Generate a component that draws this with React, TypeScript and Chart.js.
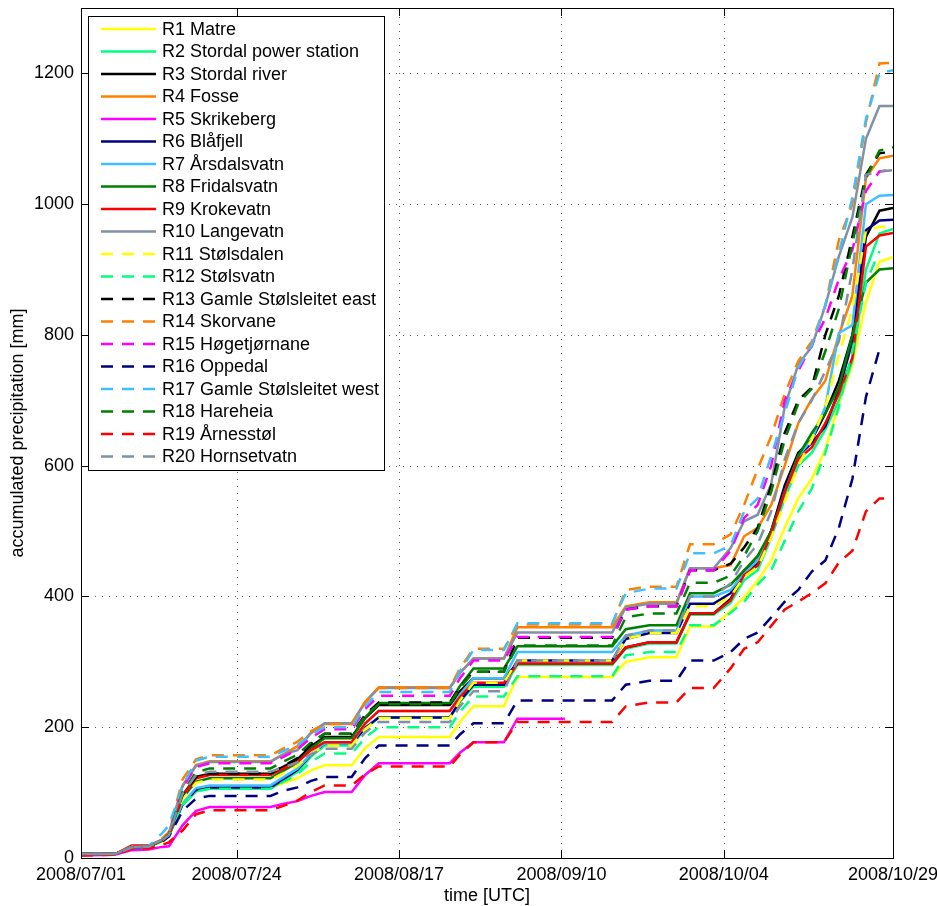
import { useEffect, useRef } from 'react';
import { Chart, registerables } from 'chart.js';

Chart.register(...registerables);

// Day offsets from 2008/07/01 00:00 UTC at which the accumulations are sampled
const days = [0, 5, 7.5, 10, 12, 13, 15, 17, 19, 28, 30, 32, 34, 36, 40, 42, 44, 54.5, 56, 58, 62.5, 64.5, 71.5, 78.5, 80.5, 84, 88, 90, 93.5, 96, 98, 100, 102, 104, 106, 108, 110, 112, 114, 116, 118, 120];

const tickDays = [0, 23, 47, 71, 95, 120];
const tickLabels = ['2008/07/01', '2008/07/24', '2008/08/17', '2008/09/10', '2008/10/04', '2008/10/29'];
const yTicks = [0, 200, 400, 600, 800, 1000, 1200];

const names = [
  'R1 Matre', 'R2 Stordal power station', 'R3 Stordal river', 'R4 Fosse', 'R5 Skrikeberg',
  'R6 Blåfjell', 'R7 Årsdalsvatn', 'R8 Fridalsvatn', 'R9 Krokevatn', 'R10 Langevatn',
  'R11 Stølsdalen', 'R12 Stølsvatn', 'R13 Gamle Stølsleitet east', 'R14 Skorvane', 'R15 Høgetjørnane',
  'R16 Oppedal', 'R17 Gamle Stølsleitet west', 'R18 Hareheia', 'R19 Årnesstøl', 'R20 Hornsetvatn',
];

const palette = ['#FFFF00', '#00FF80', '#000000', '#FF8000', '#FF00FF', '#000080', '#40BFFF', '#008000', '#FF0000', '#8090A6'];

// Accumulated precipitation [mm] per gauge
const r1 = [5, 6, 15, 16, 25, 33, 82, 104, 108, 108, 115, 122, 134, 142, 142, 168, 185, 185, 208, 232, 232, 277, 277, 277, 300, 307, 307, 354, 354, 378, 399, 424, 455, 505, 550, 580, 625, 695, 755, 850, 912, 919];
const r2 = [6, 6, 16, 17, 27, 35, 81, 102, 106, 106, 119, 132, 155, 172, 172, 198, 215, 215, 239, 262, 262, 295, 295, 295, 320, 328, 328, 372, 372, 390, 425, 440, 490, 550, 600, 620, 655, 700, 760, 900, 955, 962];
const r3 = [6, 6, 16, 17, 27, 35, 96, 124, 129, 129, 140, 151, 171, 185, 185, 214, 234, 234, 255, 275, 275, 297, 297, 297, 322, 330, 330, 374, 374, 396, 435, 450, 500, 570, 620, 640, 680, 730, 800, 950, 990, 994];
const r4 = [6, 6, 16, 17, 27, 37, 110, 142, 148, 148, 159, 171, 191, 205, 205, 239, 261, 261, 283, 305, 305, 353, 353, 353, 385, 391, 391, 443, 443, 448, 492, 505, 540, 600, 665, 702, 730, 800, 860, 1040, 1070, 1074];
const r5 = [4, 5, 12, 13, 17, 18, 50, 72, 78, 78, 83, 87, 95, 101, 101, 127, 145, 145, 161, 177, 177, 213, 213, null, null, null, null, null, null, null, null, null, null, null, null, null, null, null, null, null, null, null];
const r6 = [6, 6, 16, 17, 27, 35, 82, 104, 108, 108, 121, 135, 158, 175, 175, 199, 215, 215, 240, 265, 265, 302, 302, 302, 335, 344, 344, 389, 389, 405, 440, 455, 500, 565, 615, 635, 660, 715, 790, 960, 975, 976];
const r7 = [6, 6, 16, 17, 27, 35, 84, 107, 111, 111, 124, 137, 159, 175, 175, 205, 225, 225, 250, 275, 275, 315, 315, 315, 340, 348, 348, 400, 400, 410, 435, 455, 495, 560, 615, 640, 690, 803, 815, 1000, 1013, 1014];
const r8 = [6, 6, 16, 17, 27, 35, 92, 117, 122, 122, 134, 146, 168, 183, 183, 215, 237, 237, 263, 290, 290, 324, 324, 324, 350, 356, 356, 405, 405, 418, 440, 462, 500, 560, 615, 650, 680, 720, 800, 880, 900, 902];
const r9 = [6, 6, 19, 19, 28, 36, 95, 122, 127, 127, 137, 147, 165, 177, 177, 206, 225, 225, 246, 268, 268, 297, 297, 297, 322, 330, 330, 374, 374, 394, 433, 447, 495, 560, 610, 628, 665, 710, 765, 935, 952, 956];
const r10 = [6, 6, 17, 18, 28, 38, 110, 141, 147, 147, 159, 165, 192, 206, 206, 238, 260, 260, 283, 305, 305, 345, 345, 345, 383, 389, 389, 443, 443, 474, 515, 525, 572, 690, 755, 782, 845, 920, 980, 1100, 1150, 1150];
const r11 = [6, 6, 16, 17, 27, 35, 90, 115, 120, 120, 130, 141, 159, 172, 172, 197, 214, 214, 241, 268, 268, 302, 302, 302, 335, 344, 344, 385, 385, 400, 430, 445, 490, 545, 600, 640, 690, 770, 840, 960, 965, 966];
const r12 = [6, 6, 16, 17, 27, 35, 81, 102, 106, 106, 117, 128, 147, 160, 160, 184, 200, 200, 224, 247, 247, 278, 278, 278, 310, 315, 315, 356, 356, 375, 392, 418, 440, 485, 530, 565, 620, 690, 775, 880, 928, null];
const r13 = [6, 6, 16, 17, 27, 36, 96, 124, 129, 129, 141, 153, 175, 190, 190, 219, 238, 238, 262, 285, 285, 337, 337, 337, 380, 385, 385, 440, 440, 450, 475, 505, 570, 650, 700, 720, 800, 860, 950, 1045, 1078, 1080];
const r14 = [6, 6, 17, 18, 30, 40, 120, 151, 157, 157, 168, 178, 194, 205, 205, 238, 260, 260, 290, 320, 320, 357, 357, 357, 410, 415, 415, 480, 480, 495, 540, 595, 645, 710, 760, 790, 845, 945, 1000, 1125, 1215, 1216];
const r15 = [6, 6, 16, 17, 27, 37, 108, 139, 145, 145, 155, 166, 184, 197, 197, 228, 248, 248, 275, 302, 302, 338, 338, 338, 380, 385, 385, 440, 440, 470, 520, 540, 600, 700, 745, 785, 825, 885, 930, 1020, 1050, 1053];
const r16 = [6, 6, 16, 17, 25, 33, 72, 91, 95, 95, 103, 108, 118, 124, 124, 153, 172, 172, 189, 206, 206, 241, 241, 241, 265, 271, 271, 302, 302, 315, 335, 345, 368, 392, 410, 438, 455, 505, 580, 705, 778, null];
const r17 = [6, 6, 17, 18, 38, 50, 110, 149, 155, 155, 164, 173, 189, 200, 200, 232, 254, 254, 286, 318, 318, 359, 359, 359, 405, 412, 412, 466, 466, 478, 530, 550, 615, 680, 750, 785, 845, 925, 1010, 1130, 1200, 1205];
const r18 = [6, 6, 16, 17, 27, 36, 101, 131, 137, 137, 148, 158, 177, 190, 190, 217, 235, 235, 260, 285, 285, 325, 325, 325, 368, 374, 374, 421, 421, 432, 462, 500, 560, 640, 695, 718, 775, 840, 940, 1040, 1082, 1087];
const r19 = [4, 5, 14, 15, 20, 24, 42, 67, 73, 73, 80, 88, 101, 111, 111, 128, 140, 140, 158, 177, 177, 208, 208, 208, 232, 238, 238, 260, 260, 290, 320, 330, 355, 380, 392, 405, 420, 452, 470, 530, 550, 550];
const r20 = [6, 6, 16, 17, 27, 35, 98, 127, 132, 132, 139, 146, 159, 167, 167, 192, 208, 208, 232, 255, 255, 302, 302, 302, 340, 348, 348, 400, 400, 420, 455, 480, 530, 610, 665, 700, 745, 790, 900, 1045, 1050, 1052];

const series = [r1, r2, r3, r4, r5, r6, r7, r8, r9, r10, r11, r12, r13, r14, r15, r16, r17, r18, r19, r20];

const FONT = '"Liberation Sans", Arial, Helvetica, sans-serif';
const FONT_SIZE = 18;
const DASH = [12, 9];

const axesPlugin = {
  id: 'matlabAxes',
  beforeDatasetsDraw(chart: any) {
    const { ctx, chartArea, scales } = chart;
    const { left, right, top, bottom } = chartArea;
    ctx.save();
    ctx.strokeStyle = '#555555';
    ctx.lineWidth = 1;
    ctx.setLineDash([1, 6]);
    for (const v of yTicks) {
      if (v === 0) continue;
      const py = Math.round(scales.y.getPixelForValue(v)) + 0.5;
      ctx.beginPath();
      ctx.moveTo(left, py);
      ctx.lineTo(right, py);
      ctx.stroke();
    }
    for (const d of tickDays.slice(1, -1)) {
      const px = Math.round(scales.x.getPixelForValue(d)) + 0.5;
      ctx.beginPath();
      ctx.moveTo(px, bottom);
      ctx.lineTo(px, top);
      ctx.stroke();
    }
    ctx.restore();
  },
  afterDatasetsDraw(chart: any) {
    const { ctx, chartArea, scales } = chart;
    const { left, right, top, bottom } = chartArea;
    ctx.save();
    ctx.strokeStyle = '#000000';
    ctx.lineWidth = 1;
    ctx.setLineDash([]);
    ctx.strokeRect(Math.round(left) + 0.5, Math.round(top) + 0.5, Math.round(right - left), Math.round(bottom - top));
    const tl = 8;
    ctx.beginPath();
    for (const v of yTicks) {
      const py = Math.round(scales.y.getPixelForValue(v)) + 0.5;
      ctx.moveTo(left, py);
      ctx.lineTo(left + tl, py);
      ctx.moveTo(right, py);
      ctx.lineTo(right - tl, py);
    }
    for (const d of tickDays) {
      const px = Math.round(scales.x.getPixelForValue(d)) + 0.5;
      ctx.moveTo(px, bottom);
      ctx.lineTo(px, bottom - tl);
      ctx.moveTo(px, top);
      ctx.lineTo(px, top + tl);
    }
    ctx.stroke();
    ctx.restore();
  },
  afterDraw(chart: any) {
    const { ctx } = chart;
    const datasets = chart.data.datasets;
    const bx = 88.5;
    const by = 16.5;
    const bw = 296;
    const rowH = 22.5;
    const bh = 454;
    ctx.save();
    ctx.fillStyle = '#ffffff';
    ctx.fillRect(bx, by, bw, bh);
    ctx.strokeStyle = '#000000';
    ctx.lineWidth = 1;
    ctx.setLineDash([]);
    ctx.strokeRect(bx, by, bw, bh);
    ctx.font = `${FONT_SIZE}px ${FONT}`;
    ctx.textBaseline = 'middle';
    ctx.textAlign = 'left';
    datasets.forEach((ds: any, i: number) => {
      const cy = 29 + i * rowH;
      ctx.strokeStyle = ds.borderColor;
      ctx.lineWidth = ds.borderWidth;
      ctx.setLineDash(ds.borderDash || []);
      ctx.beginPath();
      ctx.moveTo(101, cy);
      ctx.lineTo(156, cy);
      ctx.stroke();
      ctx.fillStyle = '#000000';
      ctx.fillText(ds.label, 162, cy + 1);
    });
    ctx.restore();
  },
};

export default function App() {
  const canvasRef = useRef<HTMLCanvasElement | null>(null);

  useEffect(() => {
    const canvas = canvasRef.current;
    if (!canvas) return;
    const datasets = series.map((vals, i) => ({
      label: names[i],
      data: days.map((d, k) => ({ x: d, y: vals[k] })),
      borderColor: palette[i % 10],
      backgroundColor: palette[i % 10],
      borderWidth: 2.5,
      borderDash: i >= 10 ? DASH : [],
      pointRadius: 0,
      pointHoverRadius: 0,
      tension: 0,
      fill: false,
      spanGaps: false,
      order: 20 - i,
    }));

    const chart = new Chart(canvas, {
      type: 'line',
      data: { datasets },
      options: {
        responsive: false,
        animation: false,
        devicePixelRatio: 1,
        layout: { padding: { left: 0, right: 44, top: 8, bottom: 0 } },
        plugins: { legend: { display: false }, tooltip: { enabled: false } },
        scales: {
          x: {
            type: 'linear',
            min: 0,
            max: 120,
            grid: { display: false, drawTicks: false },
            border: { display: false },
            afterBuildTicks: (scale: any) => {
              scale.ticks = tickDays.map((v) => ({ value: v }));
            },
            afterFit: (scale: any) => {
              scale.height = 48;
              scale.paddingLeft = 0;
              scale.paddingRight = 0;
            },
            ticks: {
              autoSkip: false,
              maxRotation: 0,
              minRotation: 0,
              padding: 6,
              color: '#000000',
              font: { family: FONT, size: FONT_SIZE },
              callback: (value: any) => {
                const idx = tickDays.indexOf(Number(value));
                return idx >= 0 ? tickLabels[idx] : '';
              },
            },
            title: {
              display: true,
              text: 'time [UTC]',
              color: '#000000',
              font: { family: FONT, size: FONT_SIZE },
              padding: { top: 0, bottom: -1 },
            },
          },
          y: {
            type: 'linear',
            min: 0,
            max: 1300,
            grid: { display: false, drawTicks: false },
            border: { display: false },
            afterBuildTicks: (scale: any) => {
              scale.ticks = yTicks.map((v) => ({ value: v }));
            },
            afterFit: (scale: any) => {
              scale.width = 81;
              scale.paddingTop = 0;
              scale.paddingBottom = 0;
            },
            ticks: {
              padding: 7,
              color: '#000000',
              font: { family: FONT, size: FONT_SIZE },
              callback: (value: any) => String(value),
            },
            title: {
              display: true,
              text: 'accumulated precipitation [mm]',
              color: '#000000',
              font: { family: FONT, size: FONT_SIZE },
              padding: { top: 7, bottom: 0 },
            },
          },
        },
      },
      plugins: [axesPlugin],
    });

    return () => {
      chart.destroy();
    };
  }, []);

  return (
    <div style={{ position: 'absolute', left: 0, top: 0, width: 937, height: 906, background: '#ffffff' }}>
      <canvas ref={canvasRef} width={937} height={906} style={{ width: 937, height: 906, display: 'block' }} />
    </div>
  );
}
